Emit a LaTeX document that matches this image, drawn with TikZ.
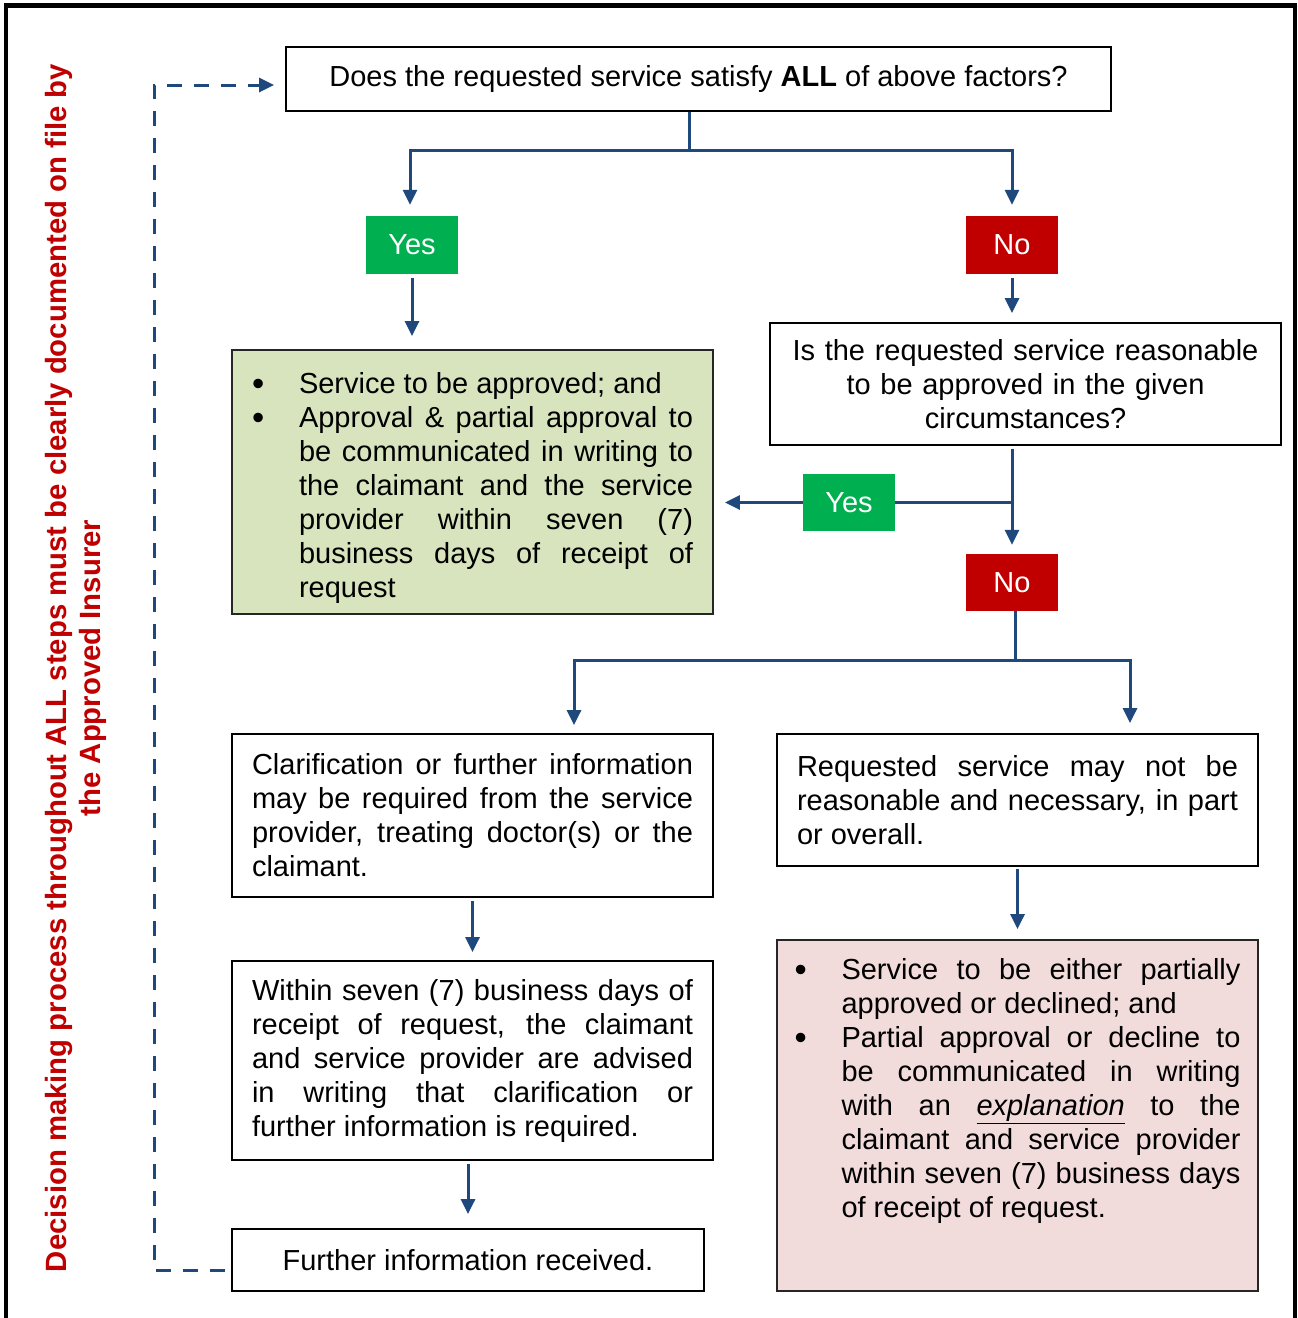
\documentclass[tikz,border=0pt]{standalone}
\usepackage{fontspec}
\setmainfont{Liberation Sans}
\usetikzlibrary{arrows.meta,calc}
\definecolor{arrblue}{RGB}{31,73,125}
\definecolor{yesgreen}{RGB}{0,176,80}
\definecolor{nored}{RGB}{192,0,0}
\definecolor{boxgreen}{RGB}{215,228,189}
\definecolor{boxpink}{RGB}{242,220,219}
\hyphenpenalty=10000
\exhyphenpenalty=10000
\newcommand{\bitem}[1]{\par\noindent\hangindent=47pt\hangafter=1\makebox[47pt][l]{\raisebox{-1.5pt}{\scalebox{1.2}{\textbullet}}}#1\par}
\begin{document}
\begin{tikzpicture}[x=1pt,y=-1pt,
  every node/.style={font=\fontsize{29}{34}\selectfont, inner sep=0pt},
  box/.style={draw=black, line width=1.8pt, inner xsep=20pt, align=justify},
  tag/.style={text=white, minimum width=92pt, minimum height=58pt},
  yestag/.style={tag, fill=yesgreen},
  notag/.style={tag, fill=nored},
  conn/.style={draw=arrblue, line width=3pt},
  arr/.style={conn, -{Triangle[width=14pt,length=15pt]}},
  dasharr/.style={arr, dash pattern=on 15pt off 12pt}
]
\useasboundingbox (0,0) rectangle (1298,1318);
\clip (0,0) rectangle (1298,1318);
\fill[white] (0,0) rectangle (1298,1318);
\draw[line width=4.5pt] (6,1340) -- (6,5.5) -- (1295,5.5) -- (1295,1340);

% nodes
\node[box, align=center, minimum width=825pt, minimum height=64pt] (q1) at (698.5,79)
  {Does the requested service satisfy \textbf{ALL} of above factors?};
\node[yestag] (yes1) at (412,245) {Yes};
\node[notag] (no1) at (1012,245) {No};
\node[box, draw=black!85, fill=boxgreen, text width=441pt, minimum height=264pt] (appr) at (472.5,482)
  {\bitem{Service to be approved; and}%
   \bitem{Approval \& partial approval to\linebreak be communicated in writing to\linebreak the claimant and the service\linebreak provider within seven (7)\linebreak business days of receipt of\linebreak request}};
\node[box, align=center, text width=471pt, minimum height=122pt] (q2) at (1025.5,384)
  {Is the requested service reasonable\\to be approved in the given\\circumstances?};
\node[yestag, minimum height=57pt] (yes2) at (849,502.5) {Yes};
\node[notag, minimum height=57pt] (no2) at (1012,582.5) {No};
\node[box, text width=441pt, minimum height=163pt] (clar) at (472.5,815.5)
  {Clarification or further information\linebreak may be required from the service\linebreak provider, treating doctor(s) or the\linebreak claimant.};
\node[box, text width=441pt, minimum height=132pt] (notreas) at (1017.5,800)
  {Requested service may not be\linebreak reasonable and necessary, in part\linebreak or overall.};
\node[box, draw=black!85, fill=boxpink, inner xsep=17.5pt, inner ysep=18.5pt] (pink) at (1017.5,1115.5)
  {\parbox[c][314pt][t]{446pt}{%
   \bitem{Service to be either partially\linebreak approved or declined; and}%
   \bitem{Partial approval or decline to\linebreak be communicated in writing\linebreak with an \underline{\textit{explanation}} to the\linebreak claimant and service provider\linebreak within seven (7) business days\linebreak of receipt of request.}}};
\node[box, text width=441pt, minimum height=199pt] (within) at (472.5,1060.5)
  {Within seven (7) business days of\linebreak receipt of request, the claimant\linebreak and service provider are advised\linebreak in writing that clarification or\linebreak further information is required.};
\node[box, align=center, minimum width=472pt, minimum height=62pt] (recv) at (468,1260)
  {Further information received.};
\node[rotate=90, text=nored, align=center, font=\bfseries\fontsize{29.3}{34}\selectfont] (side) at (76,668)
  {Decision making process throughout ALL steps must be clearly documented on file by\\the Approved Insurer};

% connectors
\draw[conn] ([xshift=-9.5pt]q1.south) -- ++(0,39) coordinate (j1);
\draw[arr] (j1) -| ([xshift=-2pt,yshift=11pt]yes1.north);
\draw[arr] (j1) -| ([yshift=11pt]no1.north);
\draw[arr, shorten <=4pt, shorten >=13pt] (yes1.south) -- (yes1.south |- appr.north);
\draw[arr, shorten <=4pt, shorten >=9pt] (no1.south) -- (no1.south |- q2.north);
\draw[arr, shorten <=3pt, shorten >=9pt] (no2.north |- q2.south) -- (no2.north);
\draw[conn] (no2.north |- yes2.east) -- (yes2.east);
\draw[arr, shorten >=11pt] (yes2.west) -- (appr.east |- yes2.west);
\draw[conn] ([xshift=3pt]no2.south) -- ++(0,49) coordinate (j2);
\draw[arr] (j2) -| ([xshift=101.5pt,yshift=8pt]clar.north);
\draw[arr] (j2) -| ([xshift=112.5pt,yshift=10pt]notreas.north);
\draw[arr, shorten <=2pt, shorten >=10pt] (notreas.south) -- (pink.north);
\draw[arr, shorten <=3pt, shorten >=8pt] (clar.south) -- (within.north);
\draw[arr, shorten <=3pt, shorten >=14pt] (recv.north |- within.south) -- (recv.north);
\draw[dasharr, shorten >=11pt] ([xshift=-6pt,yshift=-10pt]recv.west) -- ++(-71,0) |- ([yshift=-6pt]q1.west);
\end{tikzpicture}
\end{document}
